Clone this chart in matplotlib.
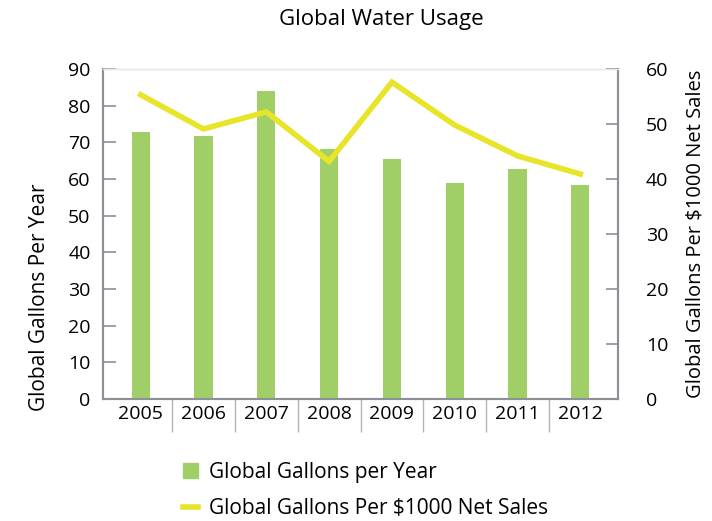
import matplotlib
matplotlib.use('Agg')
import matplotlib.pyplot as plt
from matplotlib.lines import Line2D
from matplotlib.patches import Patch
import numpy as np

plt.rcParams['font.family'] = ['Open Sans', 'DejaVu Sans']

years = ['2005', '2006', '2007', '2008', '2009', '2010', '2011', '2012']
gallons_per_year = [72.8, 71.7, 84.0, 68.2, 65.5, 58.9, 62.7, 58.4]
gallons_per_1000 = [55.3, 49.1, 52.2, 43.2, 57.6, 49.8, 44.2, 40.9]

BAR_COLOR = '#a0cf67'
LINE_COLOR = '#e8e42a'
SPINE_COLOR = '#8c9198'

fig = plt.figure(figsize=(7.12, 5.21), dpi=100)
ax = fig.add_axes([0.1447, 0.234, 0.7233, 0.6336])
x = np.arange(len(years))
ax.bar(x, gallons_per_year, width=0.29, color=BAR_COLOR, zorder=2)
ax.set_xlim(-0.6, len(years) - 0.4)
ax.set_ylim(0, 90)
ax.set_yticks(range(0, 91, 10))
ax.set_xticks(x)
ax.set_xticklabels(years)
ax.set_xticks(np.arange(0.5, len(years) - 1, 1), minor=True)
ax.tick_params(axis='x', which='major', length=0, pad=4, labelsize=14)
ax.tick_params(axis='x', which='minor', length=24, direction='out', color='#b0b4b9', width=1)
ax.tick_params(axis='y', direction='in', length=9, color=SPINE_COLOR, width=1.2, labelsize=14, pad=9)
ax.set_ylabel('Global Gallons Per Year', fontsize=15)
ax.yaxis.set_label_coords(-0.103, 0.31)

ax2 = ax.twinx()
ax2.plot(x, gallons_per_1000, color=LINE_COLOR, lw=4, zorder=3, solid_joinstyle='miter')
ax2.set_ylim(0, 60)
ax2.set_yticks(range(0, 61, 10))
ax2.tick_params(axis='y', direction='in', length=9, color=SPINE_COLOR, width=1.2, labelsize=14, pad=20)
ax2.set_ylabel('Global Gallons Per $1000 Net Sales', fontsize=14.5)
ax2.yaxis.set_label_coords(1.132, 0.5)

for a in (ax, ax2):
    for side in ('left', 'right', 'bottom'):
        a.spines[side].set_color(SPINE_COLOR)
        a.spines[side].set_linewidth(1.5)
    a.spines['top'].set_color('#e6e8ea')
    a.spines['top'].set_linewidth(1)

fig.text(0.535, 0.962, 'Global Water Usage', ha='center', va='center', fontsize=16)

handles = [Patch(color=BAR_COLOR), Line2D([], [], color=LINE_COLOR, lw=4)]
labels = ['Global Gallons per Year', 'Global Gallons Per $1000 Net Sales']
fig.legend(handles, labels, loc='upper left', bbox_to_anchor=(0.245, 0.13), frameon=False,
           fontsize=15, handlelength=0.75, handleheight=0.75, handletextpad=0.5, labelspacing=0.75,
           borderaxespad=0)

fig.savefig('out.png', dpi=100)
